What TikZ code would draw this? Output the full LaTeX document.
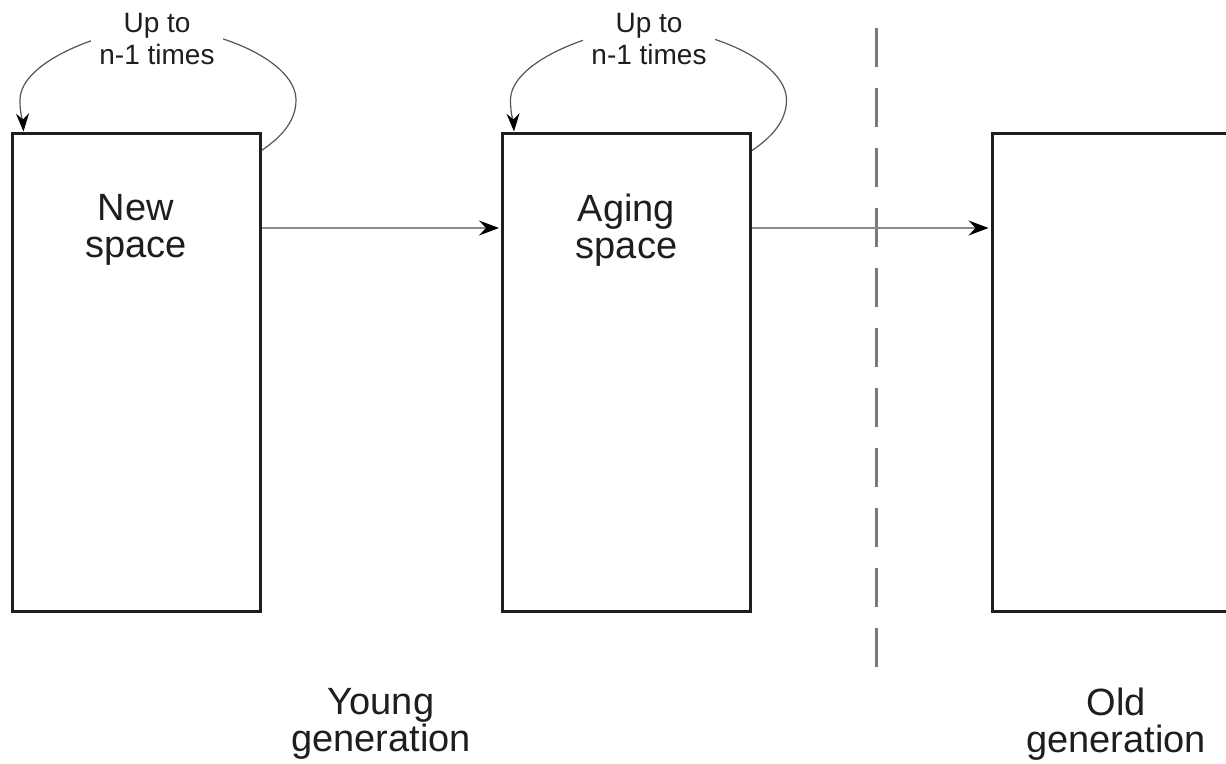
\documentclass[tikz,border=0pt]{standalone}
\usepackage{fontspec}
\setmainfont{Liberation Sans}
\usetikzlibrary{arrows.meta}
\definecolor{ink}{HTML}{1E1E1E}
\definecolor{arrgray}{HTML}{8A8A8A}
\definecolor{loopgray}{HTML}{555555}
\definecolor{dashgray}{HTML}{7A7A7A}
\begin{document}
\begin{tikzpicture}[x=1pt,y=-1pt,
  space/.style={draw=ink, line width=3pt, minimum width=248pt, minimum height=478pt, inner sep=0pt},
  biglbl/.style={font=\fontsize{38}{37}\selectfont, text=ink, align=center, inner sep=0pt},
  genlbl/.style={font=\fontsize{38}{37}\selectfont, text=ink, align=center, inner sep=0pt},
  looplbl/.style={font=\fontsize{28}{32}\selectfont, text=ink, align=center, fill=white, inner xsep=8pt, inner ysep=3pt},
  flow/.style={draw=arrgray, line width=1.6pt, -{Stealth[length=20pt,width=15pt,inset=7pt,color=black]}, shorten >=2pt},
  loopline/.style={draw=loopgray, line width=1.2pt, -{Stealth[length=18pt,width=13pt,inset=6pt,color=black]}},
  divider/.style={draw=dashgray, line width=3pt, dash pattern=on 39pt off 21pt}]
\useasboundingbox (0,0) rectangle (1226,763);
\clip (0,0) rectangle (1226,763);

% boxes
\node[space] (new) at (136,372) {};
\node[space] (aging) at (626.5,372) {};
\node[space, anchor=west] (old) at (990.5,372) {};

% box labels
\node[biglbl] (newlbl) at (136,230) {New\\space};
\node[biglbl] (aginglbl) at (626.5,230) {Aging\\space};

% generation labels
\node[genlbl] (young) at (381,724) {Young\\generation};
\node[genlbl] (oldgen) at (1116,724) {Old\\generation};

% divider
\coordinate (dtop) at (876,28);
\coordinate (dbot) at (876,667);
\draw[divider] (dtop) -- (dbot);

% flow arrows
\coordinate (flowlevel) at (0,228);
\draw[flow] (new.east |- flowlevel) -- (aging.west |- flowlevel);
\draw[flow] (aging.east |- flowlevel) -- (old.west |- flowlevel);

% loop arrows
\coordinate (s1) at ([yshift=-19pt]new.north east);
\coordinate (e1) at ([xshift=13pt]new.north west);
\begin{scope}[shift={(new.center)}]
\draw[loopline] (s1) .. controls (144,-234) and (160,-250) .. (160,-272)
  .. controls (160,-310) and (84,-344) .. (20,-344)
  .. controls (-26,-344) and (-116,-312) .. (-116,-272)
  .. controls (-116,-257) and (-113,-250) .. (e1);
\end{scope}
\node[looplbl] (lab1) at (157,39) {Up to\\n-1 times};

\coordinate (s2) at ([yshift=-19pt]aging.north east);
\coordinate (e2) at ([xshift=13pt]aging.north west);
\begin{scope}[shift={(aging.center)}]
\draw[loopline] (s2) .. controls (144,-234) and (160,-250) .. (160,-272)
  .. controls (160,-310) and (84,-344) .. (20,-344)
  .. controls (-26,-344) and (-116,-312) .. (-116,-272)
  .. controls (-116,-257) and (-113,-250) .. (e2);
\end{scope}
\node[looplbl] (lab2) at (649,39) {Up to\\n-1 times};
\end{tikzpicture}
\end{document}
